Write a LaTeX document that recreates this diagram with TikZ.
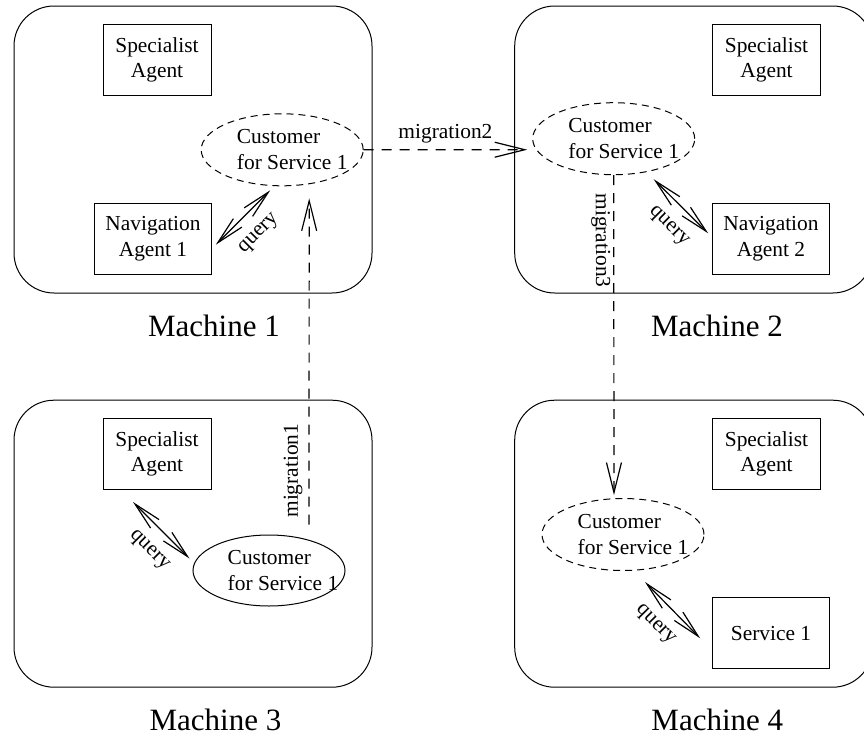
\documentclass[tikz,border=0pt]{standalone}
\usepackage{fontspec}
\setmainfont{Liberation Serif}
\usepackage{tikz}
\usetikzlibrary{calc}
\usetikzlibrary{arrows.meta}
\usetikzlibrary{positioning}
\usetikzlibrary{shapes}

\newcommand{\agentfont}{\fontsize{10.7}{12.8}\selectfont}
\newcommand{\machfont}{\fontsize{15.5}{18}\selectfont}

\begin{document}
\begin{tikzpicture}[
 x=0.5pt, y=-0.5pt,
 machine/.style = {draw, rectangle, rounded corners=20pt, minimum width=179pt,
                   minimum height=143.5pt, line width=0.5pt},
 agent/.style = {draw, rectangle, minimum height=35.5pt, minimum width=54pt, align=center,
                 font=\agentfont, line width=0.5pt},
 navagent/.style = {agent, minimum width=58.3pt},
 customer/.style = {draw, ellipse, minimum width=81pt, minimum height=36pt, inner sep=0pt,
                    line width=0.5pt},
 ghost/.style = {customer, dash pattern=on 3.5pt off 2.5pt},
 custtext/.style = {align=left, font=\agentfont, xshift=5pt},
 machlabel/.style = {font=\machfont, anchor=base, inner sep=0pt},
 query/.style = {{Straight Barb[length=14pt,width=6pt]}-{Straight Barb[length=14pt,width=6pt]},
                 line width=0.6pt},
 qlabel/.style = {font=\agentfont, sloped, below, inner sep=7.5pt},
 migrate/.style = {-{Straight Barb[length=15pt,width=7.5pt]}, dash pattern=on 5pt off 4pt,
                   line width=0.6pt},
 mlabel/.style = {font=\agentfont, sloped, inner sep=3pt},
                        ]
    \useasboundingbox (0,0) rectangle (864,735);

    % the four machines
    \node [machine] (mach1) at (193,149.5) {};
    \node [machine] (mach2) at (693.7,149.5) {};
    \node [machine] (mach3) at (193,543.7) {};
    \node [machine] (mach4) at (693.7,543.7) {};
    \node [machlabel] (lab1) at (214,336.5) {Machine 1};
    \node [machlabel] (lab2) at (717,336.5) {Machine 2};
    \node [machlabel] (lab3) at (215.5,730.5) {Machine 3};
    \node [machlabel] (lab4) at (717.3,730.5) {Machine 4};

    % machine 1
    \node [agent] (spec1) at (157,60) {Specialist\\Agent};
    \node [navagent] (nav1) at (153,238.7) {Navigation\\Agent 1};
    \node [ghost] (cust1) at (282.2,149.8) {};
    \node [custtext] at (cust1) {Customer\\for Service 1};

    % machine 2
    \node [agent] (spec2) at (766.5,60) {Specialist\\Agent};
    \node [navagent] (nav2) at (771,238.7) {Navigation\\Agent 2};
    \node [ghost] (cust2) at (613.7,138.7) {};
    \node [custtext] at (cust2) {Customer\\for Service 1};

    % machine 3
    \node [agent] (spec3) at (157,454) {Specialist\\Agent};
    \node [customer, minimum width=76pt, minimum height=35.5pt] (cust3) at (269,570.5) {};
    \node [custtext, xshift=2pt] at (cust3) {Customer\\for Service 1};

    % machine 4
    \node [agent] (spec4) at (766.5,454) {Specialist\\Agent};
    \node [navagent] (serv4) at (771,633.3) {Service 1};
    \node [ghost] (cust4) at (623,534.5) {};
    \node [custtext] at (cust4) {Customer\\for Service 1};

    % queries
    \draw [query] ($(nav1.east)+(4,6)$) -- node [qlabel] {query} ($(cust1.south)+(-12,4)$);
    \draw [query] ($(cust2.south)+(40,4)$) -- node [qlabel, pos=0.57] {query} ($(nav2.west)+(-4,-5.4)$);
    \draw [query] ($(spec3.south)+(-24,12)$) -- node [qlabel, pos=0.57] {query} ($(cust3.west)+(-3,-12)$);
    \draw [query] ($(cust4.south)+(22,11)$) -- node [qlabel, pos=0.48] {query} ($(serv4.west)+(-12,5)$);

    % migrations
    \coordinate (m1start) at ($(cust3.north)+(40,-10)$);
    \draw [migrate] (m1start) -- node [mlabel, pos=0.165, above] {migration1} ($(cust1.south)+(27,12)$);
    \draw [migrate] (cust1.east) -- node [mlabel, above] {migration2} ($(cust2.west)+(-5,11)$);
    \draw [migrate] (cust2.south) -- node [mlabel, pos=0.204, below, inner sep=1.5pt] {migration3} ($(cust4.north)+(-9,-3)$);

\end{tikzpicture}
\end{document}
